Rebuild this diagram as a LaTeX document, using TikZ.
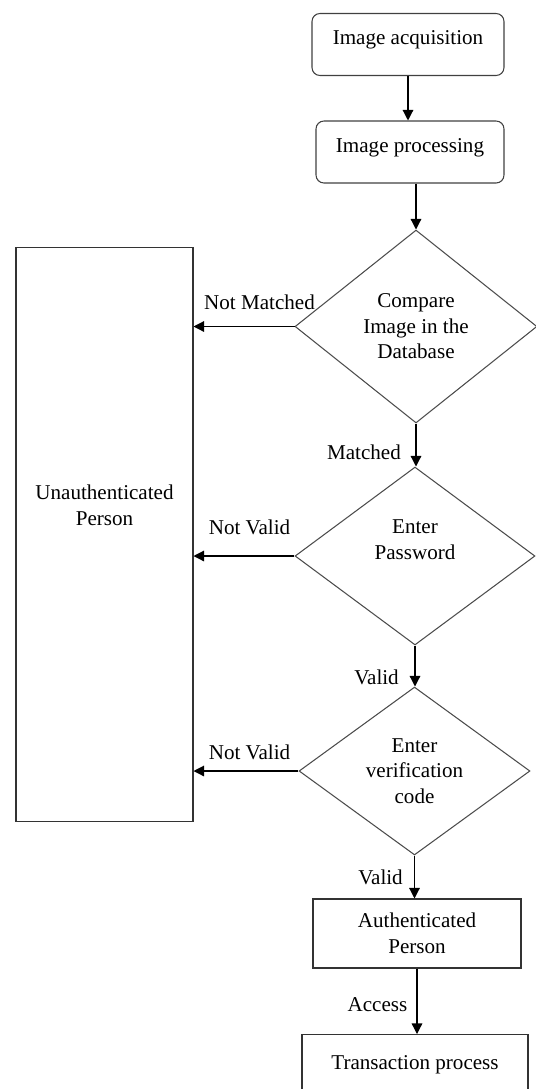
\documentclass[tikz,border=0pt]{standalone}
\usepackage{fontspec}
\setmainfont{Liberation Serif}
\usetikzlibrary{shapes.geometric,arrows.meta}
\tikzset{proc/.style={draw=black!75, rounded corners=4.5pt, line width=0.6pt, inner xsep=0pt, inner ysep=0pt, text height=0.62cm, text depth=0.62cm},
  decision/.style={draw=black!70, diamond, line width=0.6pt, inner sep=0pt, align=center},
  term/.style={draw=black!80, rectangle, line width=0.6pt, inner xsep=0pt, align=center},
  lbl/.style={inner sep=0pt},
  flow/.style={-{Triangle[length=6pt,width=6pt]}, line width=0.7pt}}

\begin{document}
\begin{tikzpicture}[x=0.02cm, y=-0.02cm, font=\fontsize{12}{14.5}\selectfont]
            \clip (0,0) rectangle (536,1089);
            \node[proc, minimum width=3.84cm] (acq) at (408,44.5) {Image acquisition};
            \node[proc, minimum width=3.76cm] (proc) at (410,152) {Image processing};
            \node[decision, minimum width=4.84cm, minimum height=3.86cm] (cmp) at (416,326.5) {Compare\\Image in the\\Database};
            \node[decision, minimum width=4.8cm, minimum height=3.56cm] (pwd) at (415,556) {Enter\\Password\\\strut};
            \node[decision, minimum width=4.62cm, minimum height=3.36cm] (ver) at (414.5,771) {Enter\\verification\\code};
            \node[term, minimum width=4.16cm, minimum height=1.38cm] (auth) at (417,933.5) {Authenticated\\Person};
            \node[term, anchor=north, minimum width=4.52cm, inner ysep=0pt, text height=0.7cm, text depth=1.0cm] (trans) at (415,1034) {Transaction process};
            \node[term, minimum width=3.54cm, inner ysep=0pt, text height=5.56cm, text depth=5.94cm] (unauth) at (104.5,534.5) {Unauthenticated\\Person};

            \node[lbl] (nmatch) at (259.5,302) {Not Matched};
            \node[lbl] (match) at (364,452) {Matched};
            \node[lbl] (nvalid1) at (249.5,527) {Not Valid};
            \node[lbl] (valid1) at (376.5,677) {Valid};
            \node[lbl] (nvalid2) at (249.5,752) {Not Valid};
            \node[lbl] (valid2) at (380.5,877) {Valid};
            \node[lbl] (access) at (377.5,1005) {Access};

            \draw[flow] (acq.south) -- (acq.south |- proc.north);
            \draw[flow] (proc.south -| cmp.north) -- (cmp.north);
            \draw[flow] (cmp.south) -- (cmp.south |- pwd.north);
            \draw[flow] (pwd.south) -- (pwd.south |- ver.north);
            \draw[flow] (ver.south) -- (ver.south |- auth.north);
            \draw[flow] (auth.south) -- (auth.south |- trans.north);
            \draw[flow] (cmp.west) -- (cmp.west -| unauth.east);
            \draw[flow] (pwd.west) -- (pwd.west -| unauth.east);
            \draw[flow] (ver.west) -- (ver.west -| unauth.east);
        \end{tikzpicture}
\end{document}
